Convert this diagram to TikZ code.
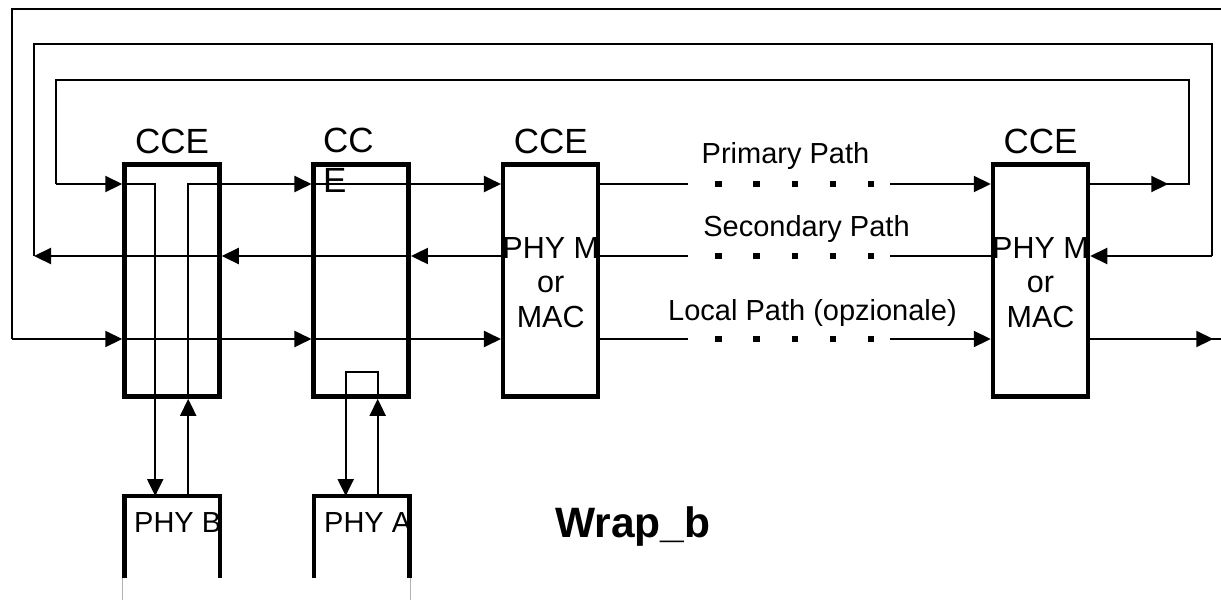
\documentclass[tikz,border=0pt]{standalone}
\usepackage{fontspec}
\setmainfont{Liberation Sans}
\usetikzlibrary{arrows.meta,positioning}

\begin{document}
\begin{tikzpicture}[x=1pt,y=-1pt,
  wire/.style={draw=black,line width=2.2pt},
  arr/.style={wire,-{Triangle[length=17pt,width=16pt]}},
  cce/.style={draw,line width=4.5pt,minimum width=95pt,minimum height=232pt,inner sep=0pt},
  phy/.style={minimum width=95.5pt,minimum height=82pt,inner sep=0pt,outer sep=0pt},
  phyedge/.style={draw=black,line width=4.5pt},
  cutline/.style={draw=black!30,line width=1pt},
  lbl/.style={inner sep=0pt,font=\fontsize{35}{40}\selectfont},
  inlbl/.style={inner sep=0pt,align=center,font=\fontsize{30.5}{34.5}\selectfont},
  txt/.style={inner sep=0pt,font=\fontsize{29}{34}\selectfont},
]
\useasboundingbox (0,0) rectangle (1221,600);

% path rows, loop corners, gap ends
\coordinate (pri) at (0,184);
\coordinate (sec) at (0,256);
\coordinate (loc) at (0,339);
\coordinate (outL) at (12,9);
\coordinate (outR) at (1221,9);
\coordinate (midL) at (34,44);
\coordinate (midR) at (1212,44);
\coordinate (inL) at (56,80);
\coordinate (inR) at (1189,80);
\coordinate (gapL) at (688,0);
\coordinate (gapR) at (890,0);

% CCE boxes
\node[cce] (c1) at (172,280.6) {};
\node[cce] (c2) at (361.2,280.6) {};
\node[cce] (c3) at (550.7,280.6) {};
\node[cce] (c4) at (1040.5,280.6) {};
\node[lbl, above=8pt of c1] (c1lbl) {CCE};
\node[lbl, align=left, anchor=north west] (c2lbl) at (323,128) {CC\\E};
\node[lbl, above=8pt of c3] (c3lbl) {CCE};
\node[lbl, above=8pt of c4] (c4lbl) {CCE};
\node[inlbl, below=74.5pt of c3.north] (c3txt) {PHY M\\or\\MAC};
\node[inlbl, below=74.5pt of c4.north] (c4txt) {PHY M\\or\\MAC};

% PHY boxes, open at the bottom
\node[phy] (phyB) at (172.2,537) {};
\node[phy] (phyA) at (361.7,537) {};
\node[txt, anchor=base west] (phyBtxt) at (134,532) {PHY B};
\node[txt, anchor=base west] (phyAtxt) at (324,532) {PHY A};
\draw[phyedge] (phyB.south west) |- (phyB.north) -| (phyB.south east);
\draw[phyedge] (phyA.south west) |- (phyA.north) -| (phyA.south east);
\draw[cutline] ([xshift=-2pt]phyB.south west) -- ++(0,22);
\draw[cutline] ([xshift=1.5pt]phyA.south east) -- ++(0,22);

% primary path
\draw[wire] (c4.east |- pri) -- (inR |- pri) -- (inR) -- (inL) -- (inL |- pri);
\draw[arr] (c4.east |- pri) -- ++(78,0);
\draw[arr] (inL |- pri) -- (c1.west |- pri);
\draw[arr] (c1.west |- pri) -| ([xshift=-17pt]phyB.north);
\draw[arr] ([xshift=16pt]phyB.north) -- ([xshift=16pt]phyB.north |- c1.south);
\draw[wire] ([xshift=16pt]phyB.north |- c1.south) |- (c1.east |- pri);
\draw[arr] (c1.east |- pri) -- (c2.west |- pri);
\draw[arr] (c2.west |- pri) -- (c3.west |- pri);
\draw[wire] (c3.east |- pri) -- (gapL |- pri);
\draw[arr] (gapR |- pri) -- (c4.west |- pri);

% secondary path
\draw[wire] (midL |- sec) -- (midL) -- (midR) -- (midR |- sec);
\draw[arr] (midR |- sec) -- (c4.east |- sec);
\draw[wire] (c4.west |- sec) -- (gapR |- sec);
\draw[wire] (gapL |- sec) -- (c3.east |- sec);
\draw[arr] (c3.west |- sec) -- (c2.east |- sec);
\draw[arr] (c2.east |- sec) -- (c1.east |- sec);
\draw[arr] (c1.east |- sec) -- (midL |- sec);

% local path
\draw[wire] (outR) -- (outL) -- (outL |- loc);
\draw[arr] (outL |- loc) -- (c1.west |- loc);
\draw[arr] (c1.west |- loc) -- (c2.west |- loc);
\draw[arr] (c2.west |- loc) -- (c3.west |- loc);
\draw[wire] (c3.east |- loc) -- (gapL |- loc);
\draw[arr] (gapR |- loc) -- (c4.west |- loc);
\draw[wire] (c4.east |- loc) -- (outR |- loc);
\draw[arr] (c4.east |- loc) -- ++(123,0);

% loopback of PHY A inside the second CCE
\draw[arr] ([xshift=16pt]phyA.north) -- ([xshift=16pt]phyA.north |- c2.south);
\draw[arr] ([xshift=16pt]phyA.north |- c2.south) -- ++(0,-27) -| ([xshift=-16pt]phyA.north);

% dotted gaps and path names
\foreach \r in {pri,sec,loc}
  \foreach \x in {718.5,756.6,795,833,871}
    \fill ([shift={(\x-3.3,-3.3)}]\r) rectangle ++(6.6,6.6);
\node[txt, anchor=base] (lblpri) at (785.5,163.3) {Primary Path};
\node[txt, anchor=base] (lblsec) at (806.5,236) {Secondary Path};
\node[txt, anchor=base] (lblloc) at (812.5,320) {Local Path (opzionale)};

\node[inner sep=0pt, anchor=base west, font=\fontsize{42.5}{48}\selectfont\bfseries] (wrap) at (555,537) {Wrap\_b};
\end{tikzpicture}
\end{document}
